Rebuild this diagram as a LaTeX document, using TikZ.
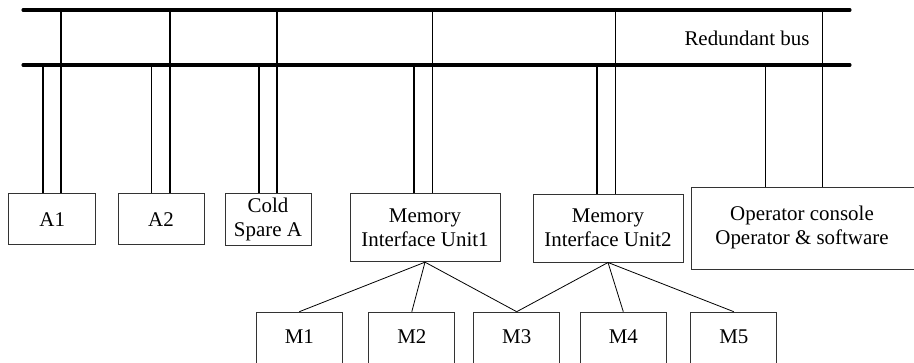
\documentclass[tikz,border=0pt]{standalone}
\usepackage{fontspec}
\setmainfont{Liberation Serif}
\usetikzlibrary{calc}
\tikzset{
  unit/.style={draw=black!80, line width=0.75pt, inner sep=0pt, align=center,
    font=\fontsize{15.7pt}{18pt}\selectfont},
  bus/.style={line width=2.3pt, line cap=round},
  drop/.style={line width=1pt},
  link/.style={line width=0.6pt},
}
% vertical tap: node, horizontal offset from its north anchor, bus coordinate
\newcommand\bustap[3]{\draw[drop] ($(#1.north)+(#2,0)$) coordinate (tap) -- (tap |- #3);}
\begin{document}
\begin{tikzpicture}[x=0.75pt, y=-0.75pt]
\useasboundingbox (0,0) rectangle (914,362);

% the two bus lines
\coordinate (topL) at (23,10);  \coordinate (topR) at (850,10);
\coordinate (lowL) at (23,65);  \coordinate (lowR) at (850,65);
\draw[bus] (topL) -- (topR);
\draw[bus] (lowL) -- (lowR);
\node[font=\fontsize{15.7pt}{18pt}\selectfont] (buslabel) at (747,38) {Redundant bus};

% units on the bus
\node[unit, minimum width=64.9pt, minimum height=38.6pt] (A1) at (52.25,219.25) {A1};
\node[unit, minimum width=64.5pt, minimum height=38.6pt] (A2) at (161,219.25) {A2};
\node[unit, minimum width=64.5pt, minimum height=38.3pt] (CS) at (268,219.5) {Cold\\Spare A};
\node[unit, minimum width=112.5pt, minimum height=50.8pt] (MIU1) at (425,227.8) {Memory\\Interface Unit1};
\node[unit, minimum width=112.5pt, minimum height=51pt] (MIU2) at (608,228) {Memory\\Interface Unit2};
\node[unit, minimum width=169pt, minimum height=61.7pt, anchor=north west] (OC) at (690.7,186.7) {};
\node[font=\fontsize{15.7pt}{18pt}\selectfont, align=center] (OCtext) at (802,227.8) {Operator console\\Operator \& software};

% memory modules
\foreach \n/\cx in {M1/299.3, M2/411.8, M3/516.7, M4/623.3, M5/733.8}
  \node[unit, minimum width=64.5pt, minimum height=39pt, anchor=north] (\n) at (\cx,311.7) {};
\foreach \n/\cx in {M1/299.3, M2/411.8, M3/516.7, M4/623.3, M5/733.8}
  \node[font=\fontsize{15.7pt}{18pt}\selectfont] (\n label) at (\cx,336.6) {\n};

% taps onto the lower and upper bus
\bustap{A1}{-9.25}{lowL}   \bustap{A1}{8.75}{topL}
\bustap{A2}{-9.5}{lowL}    \bustap{A2}{9}{topL}
\bustap{CS}{-9}{lowL}      \bustap{CS}{9}{topL}
\bustap{MIU1}{-11}{lowL}   \bustap{MIU1}{7.7}{topL}
\bustap{MIU2}{-11}{lowL}   \bustap{MIU2}{7.7}{topL}
\draw[drop] ($(OC.north west)+(75,0)$) coordinate (tap) -- (tap |- lowL);
\draw[drop] ($(OC.north west)+(132,0)$) coordinate (tap) -- (tap |- topL);

% memory interface links
\foreach \m in {M1,M2,M3} \draw[link] (MIU1.south) -- (\m.north);
\foreach \m in {M3,M4,M5} \draw[link] (MIU2.south) -- (\m.north);
\end{tikzpicture}
\end{document}
